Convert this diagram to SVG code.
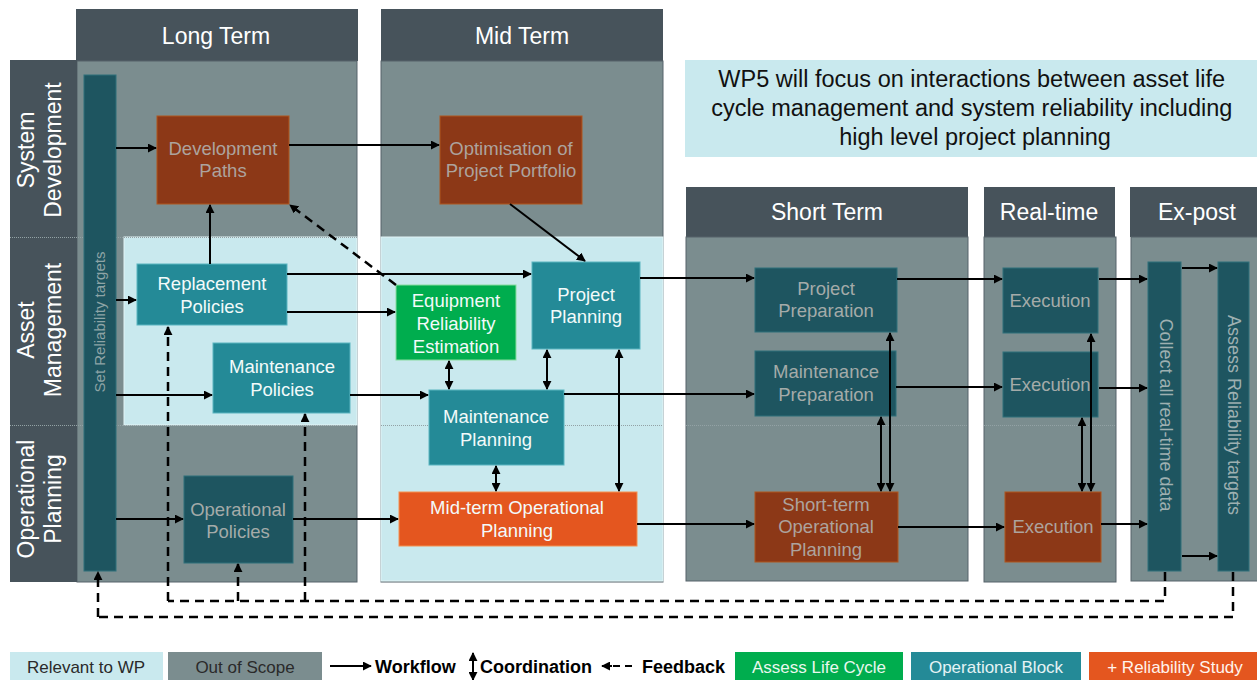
<svg xmlns="http://www.w3.org/2000/svg" width="1257" height="680" viewBox="0 0 1257 680">
  <style>
    text { font-family: "Liberation Sans", Arial, sans-serif; }
    .hdr { fill: #47535b; }
    .hdrt { font-size: 23px; fill: #ffffff; text-anchor: middle; }
    .row { fill: #47535b; }
    .rowt { font-size: 23px; fill: #ffffff; text-anchor: middle; }
    .body { fill: #7b8d8f; stroke: #56636a; stroke-width: 1; }
    .rel { fill: #c9e9ee; stroke: #e2f4f6; stroke-width: 1; }
    .sep { stroke: #93a2a5; stroke-width: 1; stroke-dasharray: 1 1; }
    .nt { font-size: 18.5px; text-anchor: middle; }
    .teal { fill: #248a97; stroke: #5ab5c0; stroke-width: 1; }
    .dteal { fill: #1e5560; stroke: #2f717b; stroke-width: 1; }
    .brown { fill: #8c3817; stroke: #b0561f; stroke-width: 1; }
    .orange { fill: #e4561f; stroke: #f5904f; stroke-width: 1; }
    .green { fill: #00ad4e; stroke: #8adca0; stroke-width: 1; }
    .w { fill: #f3fafa; }
    .g { fill: #a4aba9; }
    .gb { fill: #ada39e; }
    .wf { stroke: #000; stroke-width: 2; fill: none; marker-end: url(#ah); }
    .co { stroke: #000; stroke-width: 2; fill: none; marker-start: url(#ah); marker-end: url(#ah); }
    .fb { stroke: #000; stroke-width: 2.5; fill: none; stroke-dasharray: 9 6; }
    .fba { stroke: #000; stroke-width: 2.5; fill: none; stroke-dasharray: 9 6; marker-end: url(#ahf); }
    .lg { font-size: 17px; text-anchor: middle; }
    .lgb { font-size: 18px; font-weight: bold; fill: #000; }
  </style>
  <defs>
    <marker id="ah" viewBox="0 0 10 10" refX="9" refY="5" markerWidth="4.5" markerHeight="4.5" orient="auto-start-reverse">
      <path d="M0,0 L10,5 L0,10 z" fill="#000"/>
    </marker>
    <marker id="ahf" viewBox="0 0 10 10" refX="9" refY="5" markerWidth="3.6" markerHeight="3.6" orient="auto">
      <path d="M0,0 L10,5 L0,10 z" fill="#000"/>
    </marker>
  </defs>

  <rect width="1257" height="680" fill="#ffffff"/>

  <!-- time horizon columns -->
  <g id="col-long-term">
    <rect class="hdr" x="76" y="9" width="282" height="52"/>
    <text class="hdrt" x="216" y="44">Long Term</text>
    <rect class="body" x="77" y="61" width="280" height="521"/>
    <rect class="rel" x="124" y="237" width="233" height="188"/>
  </g>
  <g id="col-mid-term">
    <rect class="hdr" x="381" y="9" width="282" height="52"/>
    <text class="hdrt" x="522" y="44">Mid Term</text>
    <rect class="body" x="381" y="61" width="282" height="521"/>
    <rect class="rel" x="381" y="237" width="282" height="344"/>
  </g>
  <g id="col-short-term">
    <rect class="hdr" x="686" y="187" width="282" height="50"/>
    <text class="hdrt" x="827" y="220">Short Term</text>
    <rect class="body" x="686" y="237" width="282" height="344"/>
  </g>
  <g id="col-real-time">
    <rect class="hdr" x="984" y="187" width="131" height="50"/>
    <text class="hdrt" x="1049" y="220">Real-time</text>
    <rect class="body" x="984" y="237" width="132" height="345"/>
  </g>
  <g id="col-ex-post">
    <rect class="hdr" x="1130" y="187" width="135" height="50"/>
    <text class="hdrt" x="1197" y="220">Ex-post</text>
    <rect class="body" x="1131" y="237" width="135" height="344"/>
  </g>

  <!-- planning layers -->
  <g id="row-system-development">
    <rect class="row" x="10" y="60" width="67" height="177"/>
    <text class="rowt" transform="translate(0,150) rotate(-90)"><tspan x="0" y="34">System</tspan><tspan x="0" y="61">Development</tspan></text>
  </g>
  <g id="row-asset-management">
    <rect class="row" x="10" y="237" width="67" height="188"/>
    <text class="rowt" transform="translate(0,330) rotate(-90)"><tspan x="0" y="34">Asset</tspan><tspan x="0" y="61">Management</tspan></text>
  </g>
  <g id="row-operational-planning">
    <rect class="row" x="10" y="425" width="67" height="157"/>
    <text class="rowt" transform="translate(0,499) rotate(-90)"><tspan x="0" y="34">Operational</tspan><tspan x="0" y="61">Planning</tspan></text>
  </g>
  <g id="row-separators">
    <line class="sep" x1="10" y1="237.5" x2="357" y2="237.5"/>
    <line class="sep" x1="10" y1="425.5" x2="357" y2="425.5"/>
    <line class="sep" x1="381" y1="425.5" x2="663" y2="425.5"/>
    <line class="sep" x1="686" y1="425.5" x2="968" y2="425.5"/>
    <line class="sep" x1="984" y1="425.5" x2="1116" y2="425.5"/>
  </g>

  <!-- scope note -->
  <g id="note-wp5">
    <rect x="685" y="60" width="580" height="97" fill="#c9e9ee"/>
    <text font-size="23.5px" fill="#111" text-anchor="middle">
      <tspan x="975" y="87">WP5 will focus on interactions between asset life</tspan>
      <tspan x="975" y="116">cycle management and system reliability including</tspan>
      <tspan x="975" y="145">high level project planning</tspan>
    </text>
  </g>

  <!-- nodes -->
  <g id="set-reliability-targets">
    <rect class="dteal" x="84" y="75" width="32" height="496"/>
    <text font-size="15px" fill="#8ea4a6" text-anchor="middle" transform="translate(105,322) rotate(-90)" x="0" y="0">Set Reliability targets</text>
  </g>
  <g id="development-paths">
    <rect class="brown" x="157" y="116" width="132" height="88"/>
    <text class="nt gb"><tspan x="223" y="155">Development</tspan><tspan x="223" y="177">Paths</tspan></text>
  </g>
  <g id="optimisation-portfolio">
    <rect class="brown" x="440" y="116" width="142" height="88"/>
    <text class="nt gb"><tspan x="511" y="155">Optimisation of</tspan><tspan x="511" y="177">Project Portfolio</tspan></text>
  </g>
  <g id="replacement-policies">
    <rect class="teal" x="137" y="264" width="150" height="61"/>
    <text class="nt w"><tspan x="212" y="290">Replacement</tspan><tspan x="212" y="313">Policies</tspan></text>
  </g>
  <g id="maintenance-policies">
    <rect class="teal" x="213" y="343" width="137" height="70"/>
    <text class="nt w"><tspan x="282" y="373">Maintenance</tspan><tspan x="282" y="396">Policies</tspan></text>
  </g>
  <g id="operational-policies">
    <rect class="dteal" x="184" y="476" width="109" height="87"/>
    <text class="nt g"><tspan x="238" y="516">Operational</tspan><tspan x="238" y="538">Policies</tspan></text>
  </g>
  <g id="equipment-reliability">
    <rect class="green" x="396" y="285" width="120" height="75"/>
    <text class="nt w"><tspan x="456" y="307">Equipment</tspan><tspan x="456" y="330">Reliability</tspan><tspan x="456" y="353">Estimation</tspan></text>
  </g>
  <g id="project-planning">
    <rect class="teal" x="532" y="262" width="108" height="87"/>
    <text class="nt w"><tspan x="586" y="301">Project</tspan><tspan x="586" y="323">Planning</tspan></text>
  </g>
  <g id="maintenance-planning">
    <rect class="teal" x="429" y="390" width="135" height="75"/>
    <text class="nt w"><tspan x="496" y="423">Maintenance</tspan><tspan x="496" y="446">Planning</tspan></text>
  </g>
  <g id="midterm-operational-planning">
    <rect class="orange" x="399" y="492" width="238" height="54"/>
    <text class="nt w"><tspan x="517" y="514">Mid-term Operational</tspan><tspan x="517" y="537">Planning</tspan></text>
  </g>
  <g id="project-preparation">
    <rect class="dteal" x="755" y="268" width="142" height="64"/>
    <text class="nt g"><tspan x="826" y="295">Project</tspan><tspan x="826" y="317">Preparation</tspan></text>
  </g>
  <g id="maintenance-preparation">
    <rect class="dteal" x="755" y="351" width="141" height="65"/>
    <text class="nt g"><tspan x="826" y="378">Maintenance</tspan><tspan x="826" y="401">Preparation</tspan></text>
  </g>
  <g id="shortterm-operational-planning">
    <rect class="brown" x="755" y="492" width="143" height="70"/>
    <text class="nt gb"><tspan x="826" y="511">Short-term</tspan><tspan x="826" y="533">Operational</tspan><tspan x="826" y="556">Planning</tspan></text>
  </g>
  <g id="execution-project">
    <rect class="dteal" x="1003" y="268" width="95" height="65"/>
    <text class="nt g" x="1050" y="307">Execution</text>
  </g>
  <g id="execution-maintenance">
    <rect class="dteal" x="1003" y="352" width="95" height="65"/>
    <text class="nt g" x="1050" y="391">Execution</text>
  </g>
  <g id="execution-operational">
    <rect class="brown" x="1005" y="492" width="96" height="70"/>
    <text class="nt gb" x="1053" y="533">Execution</text>
  </g>
  <g id="collect-realtime-data">
    <rect class="dteal" x="1148" y="262" width="33" height="309"/>
    <text font-size="18px" fill="#9eb0b1" text-anchor="middle" transform="translate(1160,415) rotate(90)" x="0" y="0">Collect all real-time data</text>
  </g>
  <g id="assess-reliability-targets">
    <rect class="dteal" x="1218" y="262" width="31" height="309"/>
    <text font-size="18px" fill="#9eb0b1" text-anchor="middle" transform="translate(1228,415) rotate(90)" x="0" y="0">Assess Reliability targets</text>
  </g>

  <!-- connectors -->
  <g id="connectors">
    <!-- workflow -->
    <line class="wf" x1="116" y1="148" x2="156" y2="148"/>
    <line class="wf" x1="289" y1="145" x2="439" y2="145"/>
    <line class="wf" x1="510" y1="204" x2="585" y2="261"/>
    <line class="wf" x1="210" y1="264" x2="210" y2="205"/>
    <line class="wf" x1="116" y1="300" x2="136" y2="300"/>
    <line class="wf" x1="287" y1="274" x2="531" y2="274"/>
    <line class="wf" x1="287" y1="312" x2="395" y2="312"/>
    <line class="wf" x1="116" y1="395" x2="212" y2="395"/>
    <line class="wf" x1="350" y1="395" x2="428" y2="395"/>
    <line class="wf" x1="116" y1="519" x2="183" y2="519"/>
    <line class="wf" x1="293" y1="519" x2="398" y2="519"/>
    <line class="wf" x1="640" y1="278" x2="754" y2="278"/>
    <line class="wf" x1="564" y1="394" x2="754" y2="394"/>
    <line class="wf" x1="637" y1="524" x2="754" y2="524"/>
    <line class="wf" x1="897" y1="279" x2="1002" y2="279"/>
    <line class="wf" x1="896" y1="387" x2="1002" y2="387"/>
    <line class="wf" x1="898" y1="527" x2="1004" y2="527"/>
    <line class="wf" x1="1099" y1="279" x2="1147" y2="279"/>
    <line class="wf" x1="1099" y1="388" x2="1147" y2="388"/>
    <line class="wf" x1="1101" y1="524" x2="1147" y2="524"/>
    <line class="wf" x1="1182" y1="268" x2="1217" y2="268"/>
    <line class="wf" x1="1182" y1="556" x2="1217" y2="556"/>
    <!-- coordination -->
    <line class="co" x1="449" y1="361" x2="449" y2="389"/>
    <line class="co" x1="547" y1="350" x2="547" y2="389"/>
    <line class="co" x1="619" y1="350" x2="619" y2="491"/>
    <line class="co" x1="496" y1="466" x2="496" y2="491"/>
    <line class="co" x1="881" y1="417" x2="881" y2="491"/>
    <line class="co" x1="890" y1="333" x2="890" y2="491"/>
    <line class="co" x1="1082" y1="418" x2="1082" y2="491"/>
    <line class="co" x1="1091" y1="334" x2="1091" y2="491"/>
    <!-- feedback -->
    <line class="fba" x1="396" y1="285" x2="290" y2="205"/>
    <polyline class="fb" points="1165,572 1165,601 168,601"/>
    <line class="fba" x1="168" y1="601" x2="168" y2="327"/>
    <line class="fba" x1="238" y1="601" x2="238" y2="564"/>
    <line class="fba" x1="305" y1="601" x2="305" y2="414"/>
    <polyline class="fb" points="1233,572 1233,617 98,617"/>
    <line class="fba" x1="98" y1="617" x2="98" y2="572"/>
  </g>

  <!-- key -->
  <g id="legend">
    <rect x="10" y="652" width="153" height="29" fill="#c9e9ee"/>
    <text class="lg" x="86" y="673" fill="#2a2a2a">Relevant to WP</text>
    <rect x="168" y="652" width="154" height="29" fill="#7b8d8f"/>
    <text class="lg" x="245" y="673" fill="#2a2a2a">Out of Scope</text>
    <line class="wf" x1="330" y1="666" x2="371" y2="666"/>
    <text class="lgb" x="375" y="673">Workflow</text>
    <line class="co" x1="473" y1="653" x2="473" y2="680"/>
    <text class="lgb" x="480" y="673">Coordination</text>
    <line stroke="#000" stroke-width="2" stroke-dasharray="7 5" x1="632" y1="666" x2="608" y2="666"/>
    <line class="wf" x1="612" y1="666" x2="602" y2="666"/>
    <text class="lgb" x="642" y="673">Feedback</text>
    <rect x="735" y="652" width="168" height="29" fill="#00ad4e"/>
    <text class="lg" x="819" y="673" fill="#eaf8ee">Assess Life Cycle</text>
    <rect x="911" y="652" width="170" height="29" fill="#248a97"/>
    <text class="lg" x="996" y="673" fill="#e4f3f5">Operational Block</text>
    <rect x="1089" y="652" width="170" height="29" fill="#e4561f"/>
    <text class="lg" x="1175" y="673" fill="#fff3ec">+ Reliability Study</text>
  </g>
</svg>
